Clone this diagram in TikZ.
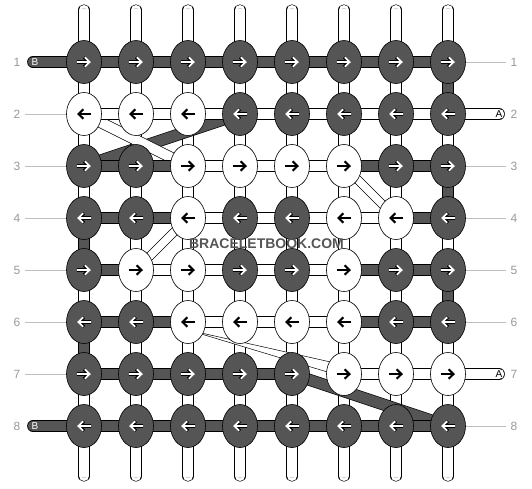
\documentclass[tikz,border=0pt]{standalone}
\usepackage{fontspec}
\setmainfont{Liberation Sans}
\usetikzlibrary{shapes.geometric,arrows.meta}
\definecolor{bcol}{HTML}{555555}
\pgfdeclarelayer{strands}
\pgfdeclarelayer{bands}
\pgfdeclarelayer{segs}
\pgfsetlayers{strands,bands,segs,main}

\tikzset{
  knot/.style = {ellipse, draw, line width=0.6pt, minimum width=35pt, minimum height=43pt, inner sep=0pt},
  knotB/.style = {knot, fill=bcol},
  knotA/.style = {knot, fill=white},
  arrK/.style = {black, line width=2.1pt, -{Straight Barb[length=4.8pt, width=9.5pt]}},
  arrW/.style = {white, line width=1.9pt, -{Straight Barb[length=4.8pt, width=9.5pt]}, preaction={draw=black, line width=3.1pt}},
  goR/.style = {path picture={\draw[#1] ([xshift=-7pt]path picture bounding box.center) -- ([xshift=7pt]path picture bounding box.center);}},
  goL/.style = {path picture={\draw[#1] ([xshift=7pt]path picture bounding box.center) -- ([xshift=-7pt]path picture bounding box.center);}},
  knotBR/.style = {knotB, goR=arrW},
  knotBL/.style = {knotB, goL=arrW},
  knotAR/.style = {knotA, goR=arrK},
  knotAL/.style = {knotA, goL=arrK},
  hsegB/.style = {draw=black, line width=0.6pt, double=bcol, double distance=10.5pt},
  hsegA/.style = {draw=black, line width=0.6pt, double=white, double distance=10.5pt},
  vsegA/.style = {draw=black, line width=0.6pt, double=white, double distance=10pt,
                  postaction={draw=black!35, line width=0.5pt, double=white, double distance=3.3pt}},
  vsegB/.style = {draw=black, line width=0.6pt, double=bcol, double distance=10pt},
  bandB/.style = {draw=black, line width=0.5pt, fill=bcol},
  bandA/.style = {draw=black, line width=0.5pt, fill=white},
  rownum/.style = {text=black!40, font=\fontsize{12}{12}\selectfont, inner sep=4.5pt},
  rowline/.style = {draw=black!25, line width=0.6pt},
  capB/.style = {text=white, font=\fontsize{10}{10}\selectfont, inner sep=0pt},
  capA/.style = {text=black, font=\fontsize{10}{10}\selectfont, inner sep=0pt},
  wmark/.style = {text=bcol, font=\bfseries\fontsize{14}{14}\selectfont, inner sep=0pt}
}

\begin{document}
\begin{tikzpicture}[x=1pt, y=-1pt]
    \useasboundingbox (0,0) rectangle (532,488);

    % row 1
    \node[knotBR] (k11) at (84, 62)  {};
    \node[knotBR] (k12) at (136, 62) {};
    \node[knotBR] (k13) at (188, 62) {};
    \node[knotBR] (k14) at (240, 62) {};
    \node[knotBR] (k15) at (292, 62) {};
    \node[knotBR] (k16) at (344, 62) {};
    \node[knotBR] (k17) at (396, 62) {};
    \node[knotBR] (k18) at (448, 62) {};

    % row 2
    \node[knotAL] (k21) at (84, 114)  {};
    \node[knotAL] (k22) at (136, 114) {};
    \node[knotAL] (k23) at (188, 114) {};
    \node[knotBL] (k24) at (240, 114) {};
    \node[knotBL] (k25) at (292, 114) {};
    \node[knotBL] (k26) at (344, 114) {};
    \node[knotBL] (k27) at (396, 114) {};
    \node[knotBL] (k28) at (448, 114) {};

    % row 3
    \node[knotBR] (k31) at (84, 166)  {};
    \node[knotBR] (k32) at (136, 166) {};
    \node[knotAR] (k33) at (188, 166) {};
    \node[knotAR] (k34) at (240, 166) {};
    \node[knotAR] (k35) at (292, 166) {};
    \node[knotAR] (k36) at (344, 166) {};
    \node[knotBR] (k37) at (396, 166) {};
    \node[knotBR] (k38) at (448, 166) {};

    % row 4
    \node[knotBL] (k41) at (84, 218)  {};
    \node[knotBL] (k42) at (136, 218) {};
    \node[knotAL] (k43) at (188, 218) {};
    \node[knotBL] (k44) at (240, 218) {};
    \node[knotBL] (k45) at (292, 218) {};
    \node[knotAL] (k46) at (344, 218) {};
    \node[knotAL] (k47) at (396, 218) {};
    \node[knotBL] (k48) at (448, 218) {};

    % row 5
    \node[knotBR] (k51) at (84, 270)  {};
    \node[knotAR] (k52) at (136, 270) {};
    \node[knotAR] (k53) at (188, 270) {};
    \node[knotBR] (k54) at (240, 270) {};
    \node[knotBR] (k55) at (292, 270) {};
    \node[knotAR] (k56) at (344, 270) {};
    \node[knotBR] (k57) at (396, 270) {};
    \node[knotBR] (k58) at (448, 270) {};

    % row 6
    \node[knotBL] (k61) at (84, 322)  {};
    \node[knotBL] (k62) at (136, 322) {};
    \node[knotAL] (k63) at (188, 322) {};
    \node[knotAL] (k64) at (240, 322) {};
    \node[knotAL] (k65) at (292, 322) {};
    \node[knotAL] (k66) at (344, 322) {};
    \node[knotBL] (k67) at (396, 322) {};
    \node[knotBL] (k68) at (448, 322) {};

    % row 7
    \node[knotBR] (k71) at (84, 374)  {};
    \node[knotBR] (k72) at (136, 374) {};
    \node[knotBR] (k73) at (188, 374) {};
    \node[knotBR] (k74) at (240, 374) {};
    \node[knotBR] (k75) at (292, 374) {};
    \node[knotAR] (k76) at (344, 374) {};
    \node[knotAR] (k77) at (396, 374) {};
    \node[knotAR] (k78) at (448, 374) {};

    % row 8
    \node[knotBL] (k81) at (84, 426)  {};
    \node[knotBL] (k82) at (136, 426) {};
    \node[knotBL] (k83) at (188, 426) {};
    \node[knotBL] (k84) at (240, 426) {};
    \node[knotBL] (k85) at (292, 426) {};
    \node[knotBL] (k86) at (344, 426) {};
    \node[knotBL] (k87) at (396, 426) {};
    \node[knotBL] (k88) at (448, 426) {};

    % string ends
    \coordinate (t1) at (84, 10);  \coordinate (b1) at (84, 476);
    \coordinate (t2) at (136, 10); \coordinate (b2) at (136, 476);
    \coordinate (t3) at (188, 10); \coordinate (b3) at (188, 476);
    \coordinate (t4) at (240, 10); \coordinate (b4) at (240, 476);
    \coordinate (t5) at (292, 10); \coordinate (b5) at (292, 476);
    \coordinate (t6) at (344, 10); \coordinate (b6) at (344, 476);
    \coordinate (t7) at (396, 10); \coordinate (b7) at (396, 476);
    \coordinate (t8) at (448, 10); \coordinate (b8) at (448, 476);
    \coordinate (cB1) at (33, 62);
    \coordinate (cB8) at (33, 426);
    \coordinate (cA2) at (499, 114);
    \coordinate (cA7) at (499, 374);

    \begin{pgfonlayer}{strands}
    \draw[vsegA, line cap=round] (t1) -- (k11.center) -- (k21.center) -- (k31.center) -- (k41.center);
    \draw[vsegA] (k51.center) -- (k61.center);
    \draw[vsegA, line cap=round] (k71.center) -- (k81.center) -- (b1);
    \draw[vsegB] (k41.center) -- (k51.center);
    \draw[vsegB] (k61.center) -- (k71.center);

    \draw[vsegA, line cap=round] (t2) -- (k12.center) -- (k22.center) -- (k32.center) -- (k42.center) -- (k52.center) -- (k62.center) -- (k72.center) -- (k82.center) -- (b2);
    \draw[vsegA, line cap=round] (t3) -- (k13.center) -- (k23.center) -- (k33.center) -- (k43.center) -- (k53.center) -- (k63.center) -- (k73.center) -- (k83.center) -- (b3);
    \draw[vsegA, line cap=round] (t4) -- (k14.center) -- (k24.center) -- (k34.center) -- (k44.center) -- (k54.center) -- (k64.center) -- (k74.center) -- (k84.center) -- (b4);
    \draw[vsegA, line cap=round] (t5) -- (k15.center) -- (k25.center) -- (k35.center) -- (k45.center) -- (k55.center) -- (k65.center) -- (k75.center) -- (k85.center) -- (b5);
    \draw[vsegA, line cap=round] (t6) -- (k16.center) -- (k26.center) -- (k36.center) -- (k46.center) -- (k56.center) -- (k66.center) -- (k76.center) -- (k86.center) -- (b6);
    \draw[vsegA, line cap=round] (t7) -- (k17.center) -- (k27.center) -- (k37.center) -- (k47.center) -- (k57.center) -- (k67.center) -- (k77.center) -- (k87.center) -- (b7);

    \draw[vsegA, line cap=round] (t8) -- (k18.center);
    \draw[vsegA] (k28.center) -- (k38.center);
    \draw[vsegA] (k48.center) -- (k58.center);
    \draw[vsegA, line cap=round] (k68.center) -- (k78.center) -- (k88.center) -- (b8);
    \draw[vsegB] (k18.center) -- (k28.center);
    \draw[vsegB] (k38.center) -- (k48.center);
    \draw[vsegB] (k58.center) -- (k68.center);
    \end{pgfonlayer}

    % floats between rows
    \begin{pgfonlayer}{bands}
    \draw[bandB] ([yshift=6pt]k31.center) -- ([yshift=6pt]k24.center) -- ([yshift=-6pt]k24.center) -- ([yshift=-6pt]k31.center) -- cycle;
    \draw[bandA] ([yshift=6pt]k21.center) -- ([yshift=6pt]k33.center) -- ([yshift=-6pt]k33.center) -- ([yshift=-6pt]k21.center) -- cycle;
    \draw[bandA] ([yshift=6pt]k36.center) -- ([yshift=6pt]k47.center) -- ([yshift=-6pt]k47.center) -- ([yshift=-6pt]k36.center) -- cycle;
    \draw[bandA] ([yshift=6pt]k43.center) -- ([yshift=6pt]k52.center) -- ([yshift=-6pt]k52.center) -- ([yshift=-6pt]k43.center) -- cycle;
    \draw[bandA] ([yshift=-8pt]k63.center) -- ([yshift=9pt]k76.center) -- ([yshift=-3pt]k76.center) -- cycle;
    \draw[bandB] ([yshift=6pt]k75.center) -- ([yshift=6pt]k88.center) -- ([yshift=-6pt]k88.center) -- ([yshift=-6pt]k75.center) -- cycle;
    \end{pgfonlayer}

    \begin{pgfonlayer}{segs}
    \draw[hsegB, line cap=round] (cB1) -- (k11.center) -- (k12.center) -- (k13.center) -- (k14.center) -- (k15.center) -- (k16.center) -- (k17.center) -- (k18.center);
    \draw[hsegA, line cap=round] (k21.center) -- (k22.center) -- (k23.center) -- (k24.center) -- (k25.center) -- (k26.center) -- (k27.center) -- (k28.center) -- (cA2);

    \draw[hsegB] (k31.center) -- (k32.center) -- (k33.center);
    \draw[hsegA] (k33.center) -- (k34.center) -- (k35.center) -- (k36.center);
    \draw[hsegB] (k36.center) -- (k37.center) -- (k38.center);

    \draw[hsegB] (k41.center) -- (k42.center) -- (k43.center);
    \draw[hsegA] (k43.center) -- (k44.center) -- (k45.center) -- (k46.center) -- (k47.center);
    \draw[hsegB] (k47.center) -- (k48.center);

    \draw[hsegB] (k51.center) -- (k52.center);
    \draw[hsegA] (k52.center) -- (k53.center) -- (k54.center) -- (k55.center) -- (k56.center);
    \draw[hsegB] (k56.center) -- (k57.center) -- (k58.center);

    \draw[hsegB] (k61.center) -- (k62.center) -- (k63.center);
    \draw[hsegA] (k63.center) -- (k64.center) -- (k65.center) -- (k66.center);
    \draw[hsegB] (k66.center) -- (k67.center) -- (k68.center);

    \draw[hsegB] (k71.center) -- (k72.center) -- (k73.center) -- (k74.center) -- (k75.center);
    \draw[hsegA, line cap=round] (k76.center) -- (k77.center) -- (k78.center) -- (cA7);

    \draw[hsegB, line cap=round] (cB8) -- (k81.center) -- (k82.center) -- (k83.center) -- (k84.center) -- (k85.center) -- (k86.center) -- (k87.center) -- (k88.center);
    \end{pgfonlayer}

    \node[capB] (tB1) at (35, 62)  {B};
    \node[capB] (tB8) at (35, 426) {B};
    \node[capA] (tA2) at (499, 114)  {A};
    \node[capA] (tA7) at (499, 374)  {A};

    % row numbers
    \node[rownum] (nl1) at (17, 62)  {1};
    \node[rownum] (nl2) at (17, 114) {2};
    \node[rownum] (nl3) at (17, 166) {3};
    \node[rownum] (nl4) at (17, 218) {4};
    \node[rownum] (nl5) at (17, 270) {5};
    \node[rownum] (nl6) at (17, 322) {6};
    \node[rownum] (nl7) at (17, 374) {7};
    \node[rownum] (nl8) at (17, 426) {8};

    \node[rownum] (nr1) at (514, 62)  {1};
    \node[rownum] (nr2) at (514, 114) {2};
    \node[rownum] (nr3) at (514, 166) {3};
    \node[rownum] (nr4) at (514, 218) {4};
    \node[rownum] (nr5) at (514, 270) {5};
    \node[rownum] (nr6) at (514, 322) {6};
    \node[rownum] (nr7) at (514, 374) {7};
    \node[rownum] (nr8) at (514, 426) {8};

    \draw[rowline] (nl2) -- (k21);
    \draw[rowline] (nl3) -- (k31);
    \draw[rowline] (nl4) -- (k41);
    \draw[rowline] (nl5) -- (k51);
    \draw[rowline] (nl6) -- (k61);
    \draw[rowline] (nl7) -- (k71);

    \draw[rowline] (k18) -- (nr1);
    \draw[rowline] (k38) -- (nr3);
    \draw[rowline] (k48) -- (nr4);
    \draw[rowline] (k58) -- (nr5);
    \draw[rowline] (k68) -- (nr6);
    \draw[rowline] (k88) -- (nr8);

    \node[wmark] (wm) at (266.5, 244) {BRACELETBOOK.COM};

\end{tikzpicture}
\end{document}
